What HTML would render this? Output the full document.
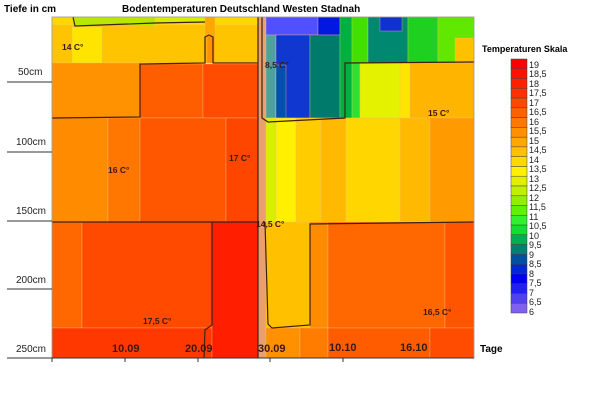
<!DOCTYPE html>
<html><head><meta charset="utf-8"><style>
body{margin:0;background:#fff;width:600px;height:402px;overflow:hidden}
text{font-family:"Liberation Sans",sans-serif}
</style></head><body>
<svg width="600" height="402" xmlns="http://www.w3.org/2000/svg">
<g stroke="#f0c080" stroke-width="0.6" stroke-opacity="0.6">
<rect x="52" y="17" width="206" height="46" fill="#ffc400"/>
<rect x="52" y="17" width="206" height="8" fill="#ffd800"/>
<rect x="73" y="17" width="82" height="9" fill="#b8e800"/>
<rect x="155" y="17" width="50" height="6" fill="#d8ee00"/>
<rect x="72" y="27" width="30" height="36" fill="#ffe400"/>
<rect x="205" y="17" width="10" height="46" fill="#ffa800"/>
<rect x="207" y="36" width="6" height="27" fill="#ff9000"/>
<rect x="52" y="63" width="88" height="55" fill="#ff9200"/>
<rect x="140" y="64" width="63" height="54" fill="#ff5e00"/>
<rect x="203" y="64" width="55" height="54" fill="#ff4c00"/>
<rect x="52" y="118" width="56" height="104" fill="#ff8c00"/>
<rect x="108" y="118" width="32" height="104" fill="#ff7600"/>
<rect x="140" y="118" width="86" height="104" fill="#ff5600"/>
<rect x="226" y="118" width="32" height="104" fill="#ff4600"/>
<rect x="52" y="222" width="30" height="106" fill="#ff6800"/>
<rect x="82" y="222" width="130" height="106" fill="#ff4a00"/>
<rect x="52" y="328" width="160" height="30" fill="#ff3800"/>
<rect x="212" y="222" width="46" height="136" fill="#ff1e00"/>
<rect x="258" y="17" width="8" height="341" fill="#e8a070"/>
<rect x="266" y="17" width="206" height="46" fill="#30d830"/>
<rect x="266" y="17" width="52" height="18" fill="#5050ff"/>
<rect x="266" y="35" width="10" height="83" fill="#50a0a0"/>
<rect x="276" y="35" width="34" height="83" fill="#1038d0"/>
<rect x="276" y="65" width="10" height="53" fill="#0050b0"/>
<rect x="318" y="17" width="22" height="18" fill="#0018e0"/>
<rect x="310" y="35" width="30" height="83" fill="#007a6a"/>
<rect x="340" y="17" width="12" height="101" fill="#00b040"/>
<rect x="352" y="17" width="16" height="46" fill="#40e000"/>
<rect x="352" y="63" width="8" height="55" fill="#30e030"/>
<rect x="368" y="17" width="40" height="46" fill="#008870"/>
<rect x="380" y="17" width="22" height="14" fill="#1030d0"/>
<rect x="408" y="17" width="30" height="46" fill="#20d020"/>
<rect x="438" y="17" width="36" height="46" fill="#60e800"/>
<rect x="455" y="38" width="19" height="25" fill="#ffc000"/>
<rect x="360" y="63" width="40" height="55" fill="#e4f200"/>
<rect x="400" y="63" width="10" height="55" fill="#ffe400"/>
<rect x="410" y="63" width="64" height="55" fill="#ffb400"/>
<rect x="266" y="118" width="10" height="104" fill="#d8f000"/>
<rect x="276" y="118" width="20" height="104" fill="#fff000"/>
<rect x="296" y="118" width="25" height="104" fill="#ffcc00"/>
<rect x="321" y="118" width="25" height="104" fill="#ffba00"/>
<rect x="346" y="118" width="54" height="104" fill="#ffd600"/>
<rect x="400" y="118" width="30" height="104" fill="#ffba00"/>
<rect x="430" y="118" width="44" height="104" fill="#ff9a00"/>
<rect x="266" y="222" width="44" height="106" fill="#ffc000"/>
<rect x="310" y="222" width="18" height="106" fill="#ff8c00"/>
<rect x="328" y="222" width="117" height="106" fill="#ff6800"/>
<rect x="445" y="222" width="29" height="106" fill="#ff5400"/>
<rect x="266" y="328" width="34" height="30" fill="#ff9000"/>
<rect x="300" y="328" width="28" height="30" fill="#ff7c00"/>
<rect x="328" y="328" width="102" height="30" fill="#ff5c00"/>
<rect x="430" y="328" width="44" height="30" fill="#ff4c00"/>
</g>
<g fill="none" stroke="#402010" stroke-width="1.2">
<polyline points="52,118 140,117 140,64 205,63 205,37 209,35 213,37 213,63 258,63"/>
<polyline points="258,17 258,358"/>
<polyline points="262,17 262,118 268,122 345,118 345,63 474,62"/>
<polyline points="73,17 75,26 155,23 205,22"/>
<polyline points="265,222 268,324 272,328 310,325 310,224 474,222"/>
<polyline points="52,222 258,222"/>
<polyline points="212,222 212,325 205,330 204,358"/>
</g>
<rect x="52" y="17" width="422" height="341" fill="none" stroke="#999" stroke-width="0.8"/>
<g stroke="#333" stroke-width="1">
<line x1="7" y1="82" x2="52" y2="82"/><line x1="7" y1="152" x2="52" y2="152"/>
<line x1="7" y1="221" x2="52" y2="221"/><line x1="7" y1="289" x2="52" y2="289"/>
<line x1="7" y1="358" x2="474" y2="358"/>
<line x1="52" y1="358" x2="52" y2="362"/><line x1="125" y1="358" x2="125" y2="362"/>
<line x1="198" y1="358" x2="198" y2="362"/><line x1="270" y1="358" x2="270" y2="362"/>
<line x1="343" y1="358" x2="343" y2="362"/>
</g>
<g font-size="10" fill="#222">
<text x="18" y="75">50cm</text><text x="16" y="145">100cm</text>
<text x="16" y="214">150cm</text><text x="16" y="283">200cm</text><text x="16" y="352">250cm</text>
</g>
<text x="4" y="12" font-size="10" font-weight="bold">Tiefe in cm</text>
<text x="122" y="12" font-size="10" font-weight="bold">Bodentemperaturen Deutschland Westen Stadnah</text>
<text x="482" y="52" font-size="9" font-weight="bold">Temperaturen Skala</text>
<g font-size="11" font-weight="bold" fill="#3a1a10">
<text x="112" y="352">10.09</text><text x="185" y="352">20.09</text>
<text x="258" y="352">30.09</text><text x="329" y="351">10.10</text><text x="400" y="351">16.10</text>
</g>
<text x="480" y="352" font-size="10" font-weight="bold">Tage</text>
<g font-size="8.5" font-weight="bold" fill="#3a1a10">
<text x="62" y="50">14 C°</text><text x="265" y="68">8,5 C°</text><text x="428" y="116">15 C°</text>
<text x="108" y="173">16 C°</text><text x="229" y="161">17 C°</text><text x="256" y="227">14,5 C°</text>
<text x="143" y="324">17,5 C°</text><text x="423" y="315">16,5 C°</text>
</g>
<g stroke="#444" stroke-width="0.5">
<rect x="511" y="59.0" width="16" height="9.8" fill="#ff0000"/>
<rect x="511" y="68.8" width="16" height="9.8" fill="#ff1000"/>
<rect x="511" y="78.5" width="16" height="9.8" fill="#ff2000"/>
<rect x="511" y="88.3" width="16" height="9.8" fill="#ff3000"/>
<rect x="511" y="98.1" width="16" height="9.8" fill="#ff4800"/>
<rect x="511" y="107.8" width="16" height="9.8" fill="#ff6000"/>
<rect x="511" y="117.6" width="16" height="9.8" fill="#ff7800"/>
<rect x="511" y="127.4" width="16" height="9.8" fill="#ff9000"/>
<rect x="511" y="137.2" width="16" height="9.8" fill="#ffa800"/>
<rect x="511" y="146.9" width="16" height="9.8" fill="#ffc000"/>
<rect x="511" y="156.7" width="16" height="9.8" fill="#ffd800"/>
<rect x="511" y="166.5" width="16" height="9.8" fill="#fff000"/>
<rect x="511" y="176.2" width="16" height="9.8" fill="#e0f000"/>
<rect x="511" y="186.0" width="16" height="9.8" fill="#c0f000"/>
<rect x="511" y="195.8" width="16" height="9.8" fill="#90f000"/>
<rect x="511" y="205.5" width="16" height="9.8" fill="#60f000"/>
<rect x="511" y="215.3" width="16" height="9.8" fill="#30f030"/>
<rect x="511" y="225.1" width="16" height="9.8" fill="#10e030"/>
<rect x="511" y="234.8" width="16" height="9.8" fill="#00b050"/>
<rect x="511" y="244.6" width="16" height="9.8" fill="#008070"/>
<rect x="511" y="254.4" width="16" height="9.8" fill="#0050a0"/>
<rect x="511" y="264.2" width="16" height="9.8" fill="#0028d0"/>
<rect x="511" y="273.9" width="16" height="9.8" fill="#0000f0"/>
<rect x="511" y="283.7" width="16" height="9.8" fill="#2020f0"/>
<rect x="511" y="293.5" width="16" height="9.8" fill="#5040f0"/>
<rect x="511" y="303.2" width="16" height="9.8" fill="#8060f0"/>
</g>
<g font-size="9" fill="#222">
<text x="529" y="68">19</text><text x="529" y="77">18,5</text><text x="529" y="87">18</text>
<text x="529" y="96">17,5</text><text x="529" y="106">17</text><text x="529" y="115">16,5</text>
<text x="529" y="125">16</text><text x="529" y="134">15,5</text><text x="529" y="144">15</text>
<text x="529" y="153">14,5</text><text x="529" y="163">14</text><text x="529" y="172">13,5</text>
<text x="529" y="182">13</text><text x="529" y="191">12,5</text><text x="529" y="201">12</text>
<text x="529" y="210">11,5</text><text x="529" y="220">11</text><text x="529" y="229">10,5</text>
<text x="529" y="239">10</text><text x="529" y="248">9,5</text><text x="529" y="258">9</text>
<text x="529" y="267">8,5</text><text x="529" y="277">8</text><text x="529" y="286">7,5</text>
<text x="529" y="296">7</text><text x="529" y="305">6,5</text><text x="529" y="315">6</text>
</g>
</svg>
</body></html>
